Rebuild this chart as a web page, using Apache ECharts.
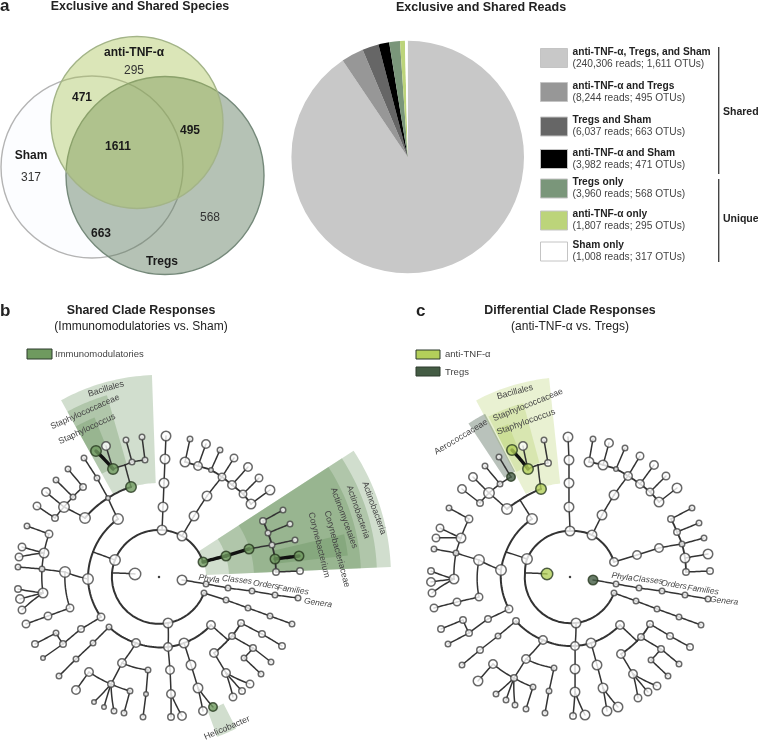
<!DOCTYPE html>
<html><head><meta charset="utf-8">
<style>html,body{margin:0;padding:0;background:#fff}#c{width:758px;height:740px}</style>
<script src="https://cdn.jsdelivr.net/npm/echarts@6/dist/echarts.min.js"></script>
</head><body><div id="c"></div>
<script>
// ---------- panel a: pie data
const readCategories = ['anti-TNF-α, Tregs, and Sham','anti-TNF-α and Tregs','Tregs and Sham','anti-TNF-α and Sham','Tregs only','anti-TNF-α only','Sham only'];
const readValues = [240306,8244,6037,3982,3960,1807,1008];
const otuValues = [1611,495,663,471,568,295,317];
const readColours = ['#c8c8c8','#979797','#666666','#000000','#7a967a','#bcd47a','#ffffff'];
const legendRowCentres = [59,93,127.5,160,189.5,221.5,252.5];

// ---------- panel a: venn (centre x, centre y, radius in picture units)
const vennSets = [
  ['Sham',92,167,91,'rgba(250,252,255,0.6)','#b4b4b4'],
  ['Tregs',165,175.5,99,'rgba(90,120,90,0.45)','#75897a'],
  ['anti-TNF-α',137,122.5,86,'rgba(170,195,85,0.42)','#a3b488']
];
const vennLabels = [
  ['anti-TNF-α',134,53,1],['295',134,71,0],['471',82,98,1],['1611',118,147,1],['495',190,131,1],
  ['Sham',31,156,1],['317',31,178,0],['663',101,234,1],['568',210,218,0],['Tregs',162,262,1]
];

// ---------- cladogram roots
const rootB = [159,577];
const rootC = [570,577];

// ---------- cladogram b: id, parent, x, y, node size, state, edge kind
const cladeB = [
 ['r1',null,204,593,5],['r2','r1',168,623,9,'w','r'],['r3','r2',112,573,0,'w','r'],['r4','r3',115,560,10,'w','r'],
 ['r5','r4',162,530,9,'w','r'],['r6','r5',182,536,9,'w','r'],['r7','r6',203,562,9,'g','r'],
 ['i1','r3',135,574,11],
 ['p0',null,182,580,9],['p1','p0',206,584,5],['p2','p1',228,588,5],['p3','p2',252,591,5],['p4','p3',275,595,5],['p5','p4',298,598,5],
 ['q1','r1',226,600,5],['q2','q1',248,608,5],['q3','q2',270,616,5],['q4','q3',292,624,5],
 ['a1','r7',226,556,9,'g','t'],['a2','a1',249,549,9,'g','t'],['a3','a2',272,545,5],['a4','a3',295,540,5],
 ['a6','a3',268,533,5,'w','m'],['a5','a6',263,521,6,'w','m'],['a7','a3',275,559,9,'g','m'],['a8','a7',276,572,6,'w','m'],
 ['a9','a5',283,510,5],['a10','a6',290,524,5],['a11','a7',299,556,9,'g','t'],['a12','a8',300,571,6],
 ['t1','r5',163,507,9],['t2','t1',164,483,9],['t3','t2',165,459,9],['t4','t3',166,436,9],
 ['e1','r6',194,516,9],['e2','e1',207,496,9],['e3','e2',222,477,7],
 ['e4','e3',211,470,4,'w','m'],['e5','e4',198,466,8,'w','m'],['e6','e5',185,462,9,'w','m'],
 ['e7','e6',190,439,5],['e8','e5',206,444,8],['e9','e4',220,450,5],['e10','e3',234,458,7],
 ['e11','e3',232,485,8,'w','m'],['e12','e11',243,494,7,'w','m'],['e13','e12',251,504,9,'w','m'],
 ['e14','e11',248,467,8],['e15','e12',259,478,7],['e16','e13',270,490,9],
 ['j1','r4',93,552,0],['c1','j1',118,519,10,'w','r'],['c2','j1',88,579,10,'w','r'],['c3','c2',101,617,7,'w','r'],
 ['u1','c1',108,498,4],['u2','u1',131,487,10,'g','r'],['u3','u1',85,518,10,'w','r'],['u4','u1',97,478,5],['u5','u4',84,458,5],
 ['s0','u2',125,465,0],['s1','s0',113,469,10,'g'],['s2','s0',132,462,5],['s3','s2',145,460,5],
 ['s4','s1',96,451,10,'g','t'],['s5','s1',106,446,8],['s6','s2',126,440,5],['s7','s3',142,437,5],
 ['v1','u3',64,507,10],['v2','v1',46,492,8],['v3','v1',73,497,5],['v4','v3',83,487,6],['v5','v4',68,469,5],['v6','v3',56,480,5],
 ['v7','v1',55,518,6],['v8','v7',37,506,7],
 ['l1','c2',65,572,10],['l2','l1',42,569,5],['l3','l2',44,553,9],['l4','l2',43,593,9],['l5','l3',49,534,7],['l6','l5',27,526,5],
 ['l7','l3',22,547,7],['l8','l3',19,557,7],['l9','l2',18,567,5],['l10','l4',18,589,6],['l11','l4',20,599,8],['l12','l4',22,610,7],
 ['l13','l1',70,608,7],['l14','l13',48,616,7],['l15','l14',26,624,7],
 ['m1','c3',81,629,6],['m2','m1',63,644,6],['m3','m2',56,633,5],['m4','m3',35,644,6],['m5','m2',43,658,4],
 ['b1',null,109,627,5],['b2','b1',136,643,8,'w','r'],['b3','b2',168,647,8,'w','r'],['b4','b3',184,643,9,'w','r'],['b5','b4',211,625,8,'w','r'],
 ['b0','r2',168,647,0],
 ['n1','b1',93,643,5],['n2','n1',76,659,5],['n3','n2',59,676,5],
 ['o1','b2',122,663,8],['o2','o1',148,670,5],['o3','o2',146,694,4],['o4','o3',143,717,5],
 ['o5','o1',111,684,6],['o6','o5',89,672,8],['o7','o6',76,690,8],['o8','o5',130,691,5],['o9','o8',124,713,5],
 ['o10','o5',94,702,4],['o11','o5',104,707,4],['o12','o5',114,711,5],
 ['h1','b3',170,670,8],['h2','h1',171,694,8],['h3','h2',171,717,6],['h4','h2',182,716,8],
 ['k1','b4',191,665,9],['k2','k1',198,688,9],['k3','k2',203,711,8],['k4','k2',213,707,8,'g'],
 ['x0','b5',228,640,0],['x1','x0',232,636,6,'w','m'],['x2','x1',241,623,6,'w','m'],['x3','x0',214,653,8,'w','m'],
 ['x4','x2',262,634,6],['x5','x4',282,646,6],['x6','x1',253,648,6],['x7','x6',271,662,5],['x8','x6',244,658,5],['x9','x8',261,674,5],
 ['x10','x3',226,673,8],['x11','x10',250,684,7],['x12','x10',242,691,6],['x13','x10',233,697,7]
];

// ---------- cladogram c: id, parent, x, y, node size, state, edge kind
const cladeC = [
 ['r1',null,614,593,5],['r2','r1',576,623,9,'w','r'],['r3','r2',525,573,0,'w','r'],['r4','r3',527,559,10,'w','r'],
 ['r5','r4',570,531,9,'w','r'],['r6','r5',592,535,9,'w','r'],['r7','r6',614,562,8,'w','r'],
 ['i1','r3',547,574,11,'l'],
 ['p0',null,593,580,9,'d'],['p1','p0',616,584,5],['p2','p1',639,588,5],['p3','p2',662,591,5],['p4','p3',685,595,5],['p5','p4',708,599,5],
 ['q1','r1',636,601,5],['q2','q1',657,609,5],['q3','q2',679,617,5],['q4','q3',701,625,5],
 ['a1','r7',637,555,8],['a2','a1',659,548,8],['a3','a2',682,544,5],['a4','a3',704,538,5],
 ['a6','a3',677,532,6,'w','m'],['a5','a6',671,519,6,'w','m'],['a7','a3',685,558,9,'w','m'],['a8','a7',686,572,6,'w','m'],
 ['a9','a5',692,508,5],['a10','a6',699,523,5],['a11','a7',708,554,9],['a12','a8',710,571,6],
 ['t1','r5',569,507,9],['t2','t1',569,483,9],['t3','t2',569,460,9],['t4','t3',568,437,9],
 ['e1','r6',602,515,9],['e2','e1',614,495,9],['e3','e2',628,476,8],
 ['e4','e3',616,469,4,'w','m'],['e5','e4',603,465,9,'w','m'],['e6','e5',589,462,9,'w','m'],
 ['e7','e6',593,439,5],['e8','e5',609,443,8],['e9','e4',625,448,5],['e10','e3',640,456,7],
 ['e11','e3',640,484,8,'w','m'],['e12','e11',650,492,7,'w','m'],['e13','e12',659,502,9,'w','m'],
 ['e14','e11',654,465,8],['e15','e12',666,476,7],['e16','e13',677,488,9],
 ['j1','r4',506,552,0],['c1','j1',532,519,10,'w','r'],['c2','j1',501,570,10,'w','r'],['c3','c2',509,609,7,'w','r'],
 ['u1','c1',520,500,0],['u2','u1',541,489,10,'l','r'],['u3','u1',507,509,10,'w','r'],
 ['s0','u2',538,465,0],['s1','s0',528,469,10,'l'],['s2','s0',548,463,6],
 ['s4','s1',512,450,10,'l','t'],['s5','s1',523,446,8],['s6','s2',544,440,5],
 ['v1','u3',489,493,10],['v2','v1',473,477,8],['v3','v1',500,484,5],['v4','v3',511,477,8,'d'],['v5','v4',499,457,5],['v6','v3',485,466,5],
 ['v7','v1',480,503,6],['v8','v7',462,489,8],
 ['l1','c2',479,560,10],['l2','l1',456,553,5],['l3','l2',461,538,9],['l4','l2',454,579,9],['l5','l3',469,519,7],['l6','l5',449,508,5],
 ['l7','l3',440,528,7],['l8','l3',436,538,7],['l9','l2',434,549,5],['l10','l4',431,571,6],['l11','l4',431,582,8],['l12','l4',432,593,7],
 ['l13','l1',479,597,7],['l14','l13',457,602,7],['l15','l14',434,608,7],
 ['m1','c3',488,619,6],['m2','m1',469,633,6],['m3','m2',463,620,6],['m4','m3',441,629,6],['m5','m2',448,644,5],
 ['b1',null,516,621,6],['b2','b1',543,640,8,'w','r'],['b3','b2',575,646,8,'w','r'],['b4','b3',591,643,9,'w','r'],['b5','b4',620,625,8,'w','r'],
 ['b0','r2',575,646,0],
 ['n1','b1',498,636,5],['n2','n1',480,650,6],['n3','n2',462,665,5],
 ['o1','b2',526,659,8],['o2','o1',554,668,5],['o3','o2',549,691,5],['o4','o3',545,713,5],
 ['o5','o1',514,678,6],['o6','o5',493,664,8],['o7','o6',478,681,9],['o8','o5',533,687,5],['o9','o8',526,709,5],
 ['o10','o5',496,694,5],['o11','o5',506,700,5],['o12','o5',515,705,5],
 ['h1','b3',575,669,9],['h2','h1',575,692,9],['h3','h2',573,716,6],['h4','h2',585,715,9],
 ['k1','b4',597,665,9],['k2','k1',603,688,9],['k3','k2',607,711,9],['k4','k2',618,707,9],
 ['x0','b5',637,641,0],['x1','x0',641,637,6,'w','m'],['x2','x1',650,624,6,'w','m'],['x3','x0',621,654,8,'w','m'],
 ['x4','x2',670,636,6],['x5','x4',690,647,6],['x6','x1',661,649,6],['x7','x6',679,664,5],['x8','x6',651,660,5],['x9','x8',668,676,5],
 ['x10','x3',633,674,8],['x11','x10',657,686,7],['x12','x10',648,692,7],['x13','x10',638,698,7]
];

// ---------- highlighted clade sectors: inner r, outer r, start angle, end angle, tone
const sectorsB = [
 [47,232,2.5,33,'g'],[70,218,2.5,33,'g'],[95,202,2.5,33,'g'],[117,190,6.5,13,'g'],
 [94,202,92,119,'g'],[118,189,106,119,'g'],[142,172,112,119,'g'],
 [142,170,-70,-63,'g']
];
const sectorsC = [
 [94,200,96,118,'l'],[118,180,105,117,'l'],[140,165,112,117,'l'],[119,184,117.5,123.5,'d']
];

// ---------- rotated clade labels: text, x, y, rotation, size, italic
const cladeLabels = [
 ['Bacillales',106,389,17,8.8],['Staphylococcaceae',85,412,24,8.6],['Staphylococcus',87,429,25,8.8],
 ['Actinobacteria',374,508,-70,8.8],['Actinobacteria',358,512,-71,8.8],['Actinomycetales',344,518,-70,8.8],
 ['Corynebacteriaceae',337,549,-75,8.8],['Corynebacterium',319,545,-76,8.8],['Helicobacter',227,728,23,8.8],
 ['Phyla',209,579,-8,8.5,1],['Classes',237,580,-6,8.5,1],['Orders',266,585,-8,8.5,1],['Families',293,590,-8,8.5,1],['Genera',318,603,-8,8.5,1],
 ['Bacillales',515,392,15,8.8],['Staphylococcaceae',528,405,22,8.6],['Staphylococcus',526,422,20,8.8],['Aerococcaceae',461,437,31,8.8],
 ['Phyla',622,577,-8,8.5,1],['Classes',648,580,-6,8.5,1],['Orders',674,585,-8,8.5,1],['Families',703,590,-8,8.5,1],['Genera',724,601,-6,8.5,1]
];

const FONT = '"Liberation Sans", Arial, sans-serif';
const RAD = Math.PI/180;
const toneFill = {g:'rgba(90,135,80,0.28)', l:'rgba(170,200,80,0.26)', d:'rgba(70,95,75,0.38)'};
const stateFill = {w:'#ffffff', g:'#6f9a5f', l:'#b3cf5a', d:'#445c44'};
const edgeWidth = {r:2, m:1.8, t:3.4};

function buildEdges(tree, root){
  const byId = {}; tree.forEach(n=>byId[n[0]]=n);
  return tree.filter(n=>n[1]).map(n=>({from:byId[n[1]],to:n,root,kind:n[6]}));
}
const edges = buildEdges(cladeB,rootB).concat(buildEdges(cladeC,rootC));
const sectors = sectorsB.map(s=>({s,root:rootB})).concat(sectorsC.map(s=>({s,root:rootC})));
const nodes = cladeB.concat(cladeC).filter(n=>n[4]>0);
const centres = [rootB,rootC];

function polar(p,root){const dx=p[0]-root[0],dy=p[1]-root[1];return [Math.hypot(dx,dy),Math.atan2(dy,dx)];}

const titles = [
 ['a',0,6,17,'bold','left'],['b',0,311,17,'bold','left'],['c',416,311,17,'bold','left'],
 ['Exclusive and Shared Species',140,7,12.4,'bold','center'],['Exclusive and Shared Reads',481,7,12.5,'bold','center'],
 ['Shared Clade Responses',141,311,12.4,'bold','center'],['(Immunomodulatories vs. Sham)',141,327,12,'normal','center'],
 ['Differential Clade Responses',570,311,12.4,'bold','center'],['(anti-TNF-α vs. Tregs)',570,327,12,'normal','center']
].map(t=>({text:t[0],left:t[1],top:t[2]-t[3]*0.5,textAlign:t[5],padding:0,
  textStyle:{fontFamily:FONT,fontSize:t[3],fontWeight:t[4],color:'#222'}}));

const legends = readCategories.map((name,i)=>({
  data:[name],orient:'vertical',left:540,top:legendRowCentres[i]-12,itemWidth:27,itemHeight:19,padding:0,itemGap:0,
  selectedMode:false,icon:'rect',
  itemStyle:{borderColor:'#c4c4c4',borderWidth:1},
  formatter:()=>'{b|'+name+'}\n{n|('+readValues[i].toLocaleString('en-US')+' reads; '+otuValues[i].toLocaleString('en-US')+' OTUs)}',
  textStyle:{rich:{
    b:{fontFamily:FONT,fontSize:10.2,fontWeight:'bold',color:'#222',lineHeight:12},
    n:{fontFamily:FONT,fontSize:10.2,color:'#444',lineHeight:12}
  }}
}));

function rule(x,y1,y2){return {type:'line',shape:{x1:x,y1:y1,x2:x,y2:y2},style:{stroke:'#444',lineWidth:1.4},silent:true};}
function swatch(x,y,w,h,fill){return {type:'rect',shape:{x,y,width:w,height:h},style:{fill,stroke:'#2c3a2c',lineWidth:1},silent:true};}
function note(t,x,y,weight,size,color){return {type:'text',x,y,style:{text:t,fontFamily:FONT,fontSize:size,fontWeight:weight,fill:color,verticalAlign:'middle'},silent:true};}

const graphics = [
 rule(718.7,47,174),rule(718.7,179,262),
 note('Shared',723,112,'bold',10.5,'#222'),note('Unique',723,219,'bold',10.5,'#222'),
 swatch(27,349,25,10,stateFill.g),note('Immunomodulatories',55,354,'normal',9.5,'#444'),
 swatch(416,350,24,9,stateFill.l),note('anti-TNF-α',445,354,'normal',9.5,'#444'),
 swatch(416,367,24,9,stateFill.d),note('Tregs',445,372,'normal',9.5,'#444')
];

const option = {
  animation:false,
  backgroundColor:'#fff',
  title:titles,
  legend:legends,
  graphic:graphics,
  grid:{left:0,top:0,width:758,height:740,containLabel:false},
  xAxis:{type:'value',min:0,max:758,show:false},
  yAxis:{type:'value',min:0,max:740,inverse:true,show:false},
  series:[
   {type:'custom',coordinateSystem:'cartesian2d',silent:true,z:1,data:vennSets.map(v=>[v[1],v[2]]),
    renderItem(p,api){const v=vennSets[p.dataIndex],c=api.coord([v[1],v[2]]);
      return {type:'circle',shape:{cx:c[0],cy:c[1],r:api.size([v[3],0])[0]},style:{fill:v[4],stroke:v[5],lineWidth:1.4}};}},
   {type:'custom',coordinateSystem:'cartesian2d',silent:true,z:2,data:vennLabels.map(v=>[v[1],v[2]]),
    renderItem(p,api){const v=vennLabels[p.dataIndex],c=api.coord([v[1],v[2]]);
      return {type:'text',x:c[0],y:c[1],style:{text:v[0],fontFamily:FONT,fontSize:12,fontWeight:v[3]?'bold':'normal',fill:v[3]?'#1a1a1a':'#333',align:'center',verticalAlign:'middle'}};}},
   {type:'pie',name:'Reads',center:[407.7,157],radius:[0,116.3],startAngle:90,clockwise:true,silent:true,z:1,
    minAngle:0,label:{show:false},labelLine:{show:false},itemStyle:{borderWidth:0},emphasis:{disabled:true},
    data:readCategories.map((name,i)=>({name,value:readValues[i],itemStyle:{color:readColours[i]}}))},
   {type:'custom',coordinateSystem:'cartesian2d',silent:true,z:3,data:sectors.map(o=>o.root),
    renderItem(p,api){const o=sectors[p.dataIndex],s=o.s,pts=[],N=24;
      for(let i=0;i<=N;i++){const a=(s[3]+(s[2]-s[3])*i/N)*RAD;pts.push(api.coord([o.root[0]+s[1]*Math.cos(a),o.root[1]-s[1]*Math.sin(a)]));}
      for(let i=0;i<=N;i++){const a=(s[2]+(s[3]-s[2])*i/N)*RAD;pts.push(api.coord([o.root[0]+s[0]*Math.cos(a),o.root[1]-s[0]*Math.sin(a)]));}
      return {type:'polygon',shape:{points:pts},style:{fill:toneFill[s[4]]}};}},
   {type:'custom',coordinateSystem:'cartesian2d',silent:true,z:4,data:edges.map(e=>[e.to[2],e.to[3]]),
    renderItem(p,api){const e=edges[p.dataIndex],a=polar([e.from[2],e.from[3]],e.root),b=polar([e.to[2],e.to[3]],e.root);
      let d=b[1]-a[1];while(d>Math.PI)d-=2*Math.PI;while(d<-Math.PI)d+=2*Math.PI;
      const pts=[],N=14;
      for(let i=0;i<=N;i++){const t=i/N,r=a[0]+(b[0]-a[0])*t,an=a[1]+d*t;pts.push(api.coord([e.root[0]+r*Math.cos(an),e.root[1]+r*Math.sin(an)]));}
      return {type:'polyline',shape:{points:pts},style:{fill:null,stroke:e.kind==='t'?'#111':'#333',lineWidth:edgeWidth[e.kind]||1.5,lineCap:'round',lineJoin:'round'}};}},
   {type:'scatter',coordinateSystem:'cartesian2d',silent:true,z:5,symbol:'circle',
    data:nodes.map(n=>({value:[n[2],n[3]],symbolSize:n[4]+0.5,
      itemStyle:{color:stateFill[n[5]||'w'],borderColor:(n[5]&&n[5]!=='w')?'#27381f':'#444',borderWidth:1.5}}))},
   {type:'scatter',coordinateSystem:'cartesian2d',silent:true,z:5,symbol:'circle',symbolSize:2.5,
    itemStyle:{color:'#111'},data:centres},
   {type:'custom',coordinateSystem:'cartesian2d',silent:true,z:6,data:cladeLabels.map(l=>[l[1],l[2]]),
    renderItem(p,api){const l=cladeLabels[p.dataIndex],c=api.coord([l[1],l[2]]);
      return {type:'text',x:c[0],y:c[1],rotation:l[3]*RAD,style:{text:l[0],fontFamily:FONT,fontSize:l[4],fontStyle:l[5]?'italic':'normal',fill:'#444',align:'center',verticalAlign:'middle'}};}}
  ]
};
echarts.init(document.getElementById('c')).setOption(option);
</script></body></html>
